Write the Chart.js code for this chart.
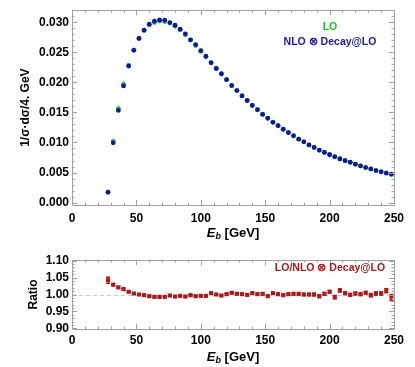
<!DOCTYPE html>
<html><head><meta charset="utf-8">
<script src="https://cdn.jsdelivr.net/npm/chart.js@4.4.1/dist/chart.umd.min.js"></script>
<style>
html,body{margin:0;padding:0;background:#fff;width:415px;height:367px;overflow:hidden}
canvas{position:absolute;left:0}
#c1{top:0;width:415px;height:245px}
#c2{top:245px;width:415px;height:122px}
</style></head><body>
<canvas id="c1" width="415" height="245"></canvas>
<canvas id="c2" width="415" height="122"></canvas>
<script>
const energy=[28,32,36,40,44,48,52,56,60,64,68,72,76,80,84,88,92,96,100,104,108,112,116,120,124,128,132,136,140,144,148,152,156,160,164,168,172,176,180,184,188,192,196,200,204,208,212,216,220,224,228,232,236,240,244,248];
const nloDecay=[0.0017,0.00994,0.01533,0.0194,0.0227,0.02533,0.0273,0.02868,0.02967,0.03016,0.03038,0.03033,0.02995,0.0295,0.02884,0.02807,0.02708,0.02626,0.02527,0.02434,0.02324,0.0223,0.02143,0.02044,0.01945,0.01863,0.01775,0.01698,0.01615,0.01544,0.01467,0.01406,0.01335,0.0128,0.0122,0.01165,0.0111,0.01055,0.0101,0.0096,0.00918,0.00874,0.00835,0.00796,0.00763,0.00725,0.00697,0.00671,0.00638,0.0061,0.00582,0.0056,0.00532,0.00511,0.0049,0.00473];
const lo=[0.00177,0.01023,0.01565,0.01971,0.02288,0.02541,0.0273,0.02862,0.02952,0.02995,0.03017,0.03012,0.02986,0.02932,0.02872,0.0279,0.02703,0.02613,0.02517,0.02424,0.02333,0.0223,0.02137,0.02046,0.01955,0.01867,0.01777,0.01696,0.01621,0.01546,0.0147,0.01399,0.0134,0.01281,0.01218,0.01166,0.01112,0.01057,0.0101,0.0096,0.00918,0.0087,0.00837,0.00802,0.00757,0.00734,0.007,0.0067,0.0064,0.00611,0.00585,0.00559,0.00534,0.00513,0.00495,0.00469];
const ratio=[1.042,1.029,1.021,1.016,1.008,1.003,1.000,0.998,0.995,0.993,0.993,0.993,0.997,0.994,0.996,0.994,0.998,0.995,0.996,0.996,1.004,1.000,0.997,1.001,1.005,1.002,1.001,0.999,1.004,1.001,1.002,0.995,1.004,1.001,0.998,1.001,1.002,1.002,1.000,1.000,1.000,0.995,1.002,1.008,0.992,1.012,1.004,0.999,1.003,1.001,1.005,0.998,1.003,1.003,1.011,0.991];
const ratioErr=[0.009,0.003,0.003,0.003,0.002,0.002,0.002,0.002,0.002,0.002,0.002,0.002,0.002,0.002,0.002,0.002,0.002,0.002,0.002,0.002,0.002,0.002,0.002,0.002,0.002,0.002,0.002,0.003,0.003,0.003,0.003,0.003,0.003,0.003,0.003,0.003,0.003,0.003,0.003,0.003,0.004,0.004,0.004,0.004,0.005,0.005,0.004,0.004,0.004,0.004,0.004,0.005,0.005,0.005,0.006,0.009];
const xTicks=[0,50,100,150,200,250];
const yTicksTop=[0,0.005,0.010,0.015,0.020,0.025,0.030];
const yTicksRatio=[0.90,0.95,1.00,1.05,1.10];

const FONT='"Liberation Sans", Arial, sans-serif';
const tickFont={family:FONT,size:12,weight:'bold'};
const FRAME='#a0a0a0';

function pts(ys){return energy.map((x,i)=>({x:x,y:ys[i]}));}

function frameTicks(chart,xMinor,yMinor,yMajor){
  const ctx=chart.ctx,a=chart.chartArea,xs=chart.scales.x,ys=chart.scales.y;
  ctx.save();
  ctx.strokeStyle=FRAME;ctx.lineWidth=1;
  ctx.beginPath();
  ctx.rect(Math.round(a.left)+0.5,Math.round(a.top)+0.5,Math.round(a.right-a.left),Math.round(a.bottom-a.top));
  ctx.stroke();
  ctx.beginPath();
  for(let v=xs.min;v<=xs.max+1e-9;v+=xMinor){
    const major=Math.abs(v/50-Math.round(v/50))<1e-6;
    const L=major?5:2.5;
    const p=Math.round(xs.getPixelForValue(v))+0.5;
    ctx.moveTo(p,a.bottom);ctx.lineTo(p,a.bottom-L);
    ctx.moveTo(p,a.top);ctx.lineTo(p,a.top+L);
  }
  const start=Math.ceil(ys.min/yMinor-1e-6);
  const end=Math.floor(ys.max/yMinor+1e-6);
  const per=Math.round(yMajor/yMinor);
  for(let k=start;k<=end;k++){
    const v=k*yMinor;
    const major=(k%per)===0;
    const L=major?5:2.5;
    const p=Math.round(ys.getPixelForValue(v))+0.5;
    ctx.moveTo(a.left,p);ctx.lineTo(a.left+L,p);
    ctx.moveTo(a.right,p);ctx.lineTo(a.right-L,p);
  }
  ctx.stroke();
  ctx.restore();
}

function drawXTitle(ctx,cx,cy){
  ctx.save();
  ctx.fillStyle='#000';ctx.textBaseline='middle';
  const f1='italic bold 13px '+FONT, f2='italic bold 9px '+FONT, f3='bold 13px '+FONT;
  ctx.font=f1;const w1=ctx.measureText('E').width;
  ctx.font=f2;const w2=ctx.measureText('b').width;
  ctx.font=f3;const w3=ctx.measureText(' [GeV]').width;
  let x=cx-(w1+w2+w3)/2;
  ctx.textAlign='left';
  ctx.font=f1;ctx.fillText('E',x,cy);x+=w1;
  ctx.font=f2;ctx.fillText('b',x,cy+4);x+=w2;
  ctx.font=f3;ctx.fillText(' [GeV]',x,cy);
  ctx.restore();
}

function drawRotated(ctx,text,cx,cy,font){
  ctx.save();ctx.translate(cx,cy);ctx.rotate(-Math.PI/2);
  ctx.font=font;ctx.fillStyle='#000';ctx.textAlign='center';ctx.textBaseline='middle';
  ctx.fillText(text,0,0);ctx.restore();
}

const topPlugin={id:'topDeco',
  afterDatasetsDraw(chart){
    frameTicks(chart,10,0.001,0.005);
    const ctx=chart.ctx,a=chart.chartArea;
    drawXTitle(ctx,(a.left+a.right)/2,233);
    drawRotated(ctx,'1/\u03c3\u00b7d\u03c3/4. GeV',26,(a.top+a.bottom)/2,'bold 12px '+FONT);
    ctx.save();
    ctx.font='bold 10.5px '+FONT;ctx.textAlign='center';ctx.textBaseline='middle';
    ctx.fillStyle='#22bb22';ctx.fillText('LO',330,27);
    ctx.fillStyle='#1a1aa6';ctx.fillText('NLO \u2297 Decay@LO',330,42);
    ctx.restore();
  }};

new Chart(document.getElementById('c1'),{
  type:'scatter',
  data:{datasets:[
    {label:'NLO\u2297Decay@LO',data:pts(nloDecay),order:1,pointStyle:'circle',pointRadius:2.4,pointBorderWidth:0,backgroundColor:'#0d1aa0',borderColor:'#0d1aa0'},
    {label:'LO',data:pts(lo),order:2,pointStyle:'circle',pointRadius:2.4,pointBorderWidth:0,backgroundColor:'#33c433',borderColor:'#33c433'}
  ]},
  options:{responsive:false,animation:false,devicePixelRatio:1,
    layout:{padding:{left:0,right:21,top:8,bottom:0}},
    plugins:{legend:{display:false},tooltip:{enabled:false}},
    scales:{
      x:{type:'linear',min:0,max:250,
        afterBuildTicks:s=>{s.ticks=xTicks.map(v=>({value:v}));},
        afterFit:s=>{s.height=40;},
        grid:{display:false,drawTicks:false},border:{display:false},
        ticks:{padding:6,font:tickFont,color:'#000',maxRotation:0,autoSkip:false,callback:v=>String(v)}},
      y:{type:'linear',min:-0.0004,max:0.032,
        afterBuildTicks:s=>{s.ticks=yTicksTop.map(v=>({value:v}));},
        afterFit:s=>{s.width=72;},
        grid:{display:false,drawTicks:false},border:{display:false},
        ticks:{padding:3,font:tickFont,color:'#000',autoSkip:false,callback:v=>v.toFixed(3)}}
    }},
  plugins:[topPlugin]
});

const ratioPlugin={id:'ratioDeco',
  beforeDatasetsDraw(chart){
    const ctx=chart.ctx,a=chart.chartArea,xs=chart.scales.x,ys=chart.scales.y;
    ctx.save();
    ctx.strokeStyle='#cccccc';ctx.lineWidth=1;ctx.setLineDash([4,3]);
    const p=Math.round(ys.getPixelForValue(1))+0.5;
    ctx.beginPath();ctx.moveTo(a.left,p);ctx.lineTo(a.right,p);ctx.stroke();
    ctx.setLineDash([]);
    ctx.strokeStyle='#b01818';ctx.lineWidth=1.3;
    ctx.beginPath();
    energy.forEach((e,i)=>{
      const x=xs.getPixelForValue(e);
      const y1=ys.getPixelForValue(ratio[i]+ratioErr[i]);
      const y2=ys.getPixelForValue(ratio[i]-ratioErr[i]);
      ctx.moveTo(x,y1);ctx.lineTo(x,y2);
      ctx.moveTo(x-2,y1);ctx.lineTo(x+2,y1);
      ctx.moveTo(x-2,y2);ctx.lineTo(x+2,y2);
    });
    ctx.stroke();
    ctx.restore();
  },
  afterDatasetsDraw(chart){
    frameTicks(chart,10,0.01,0.05);
    const ctx=chart.ctx,a=chart.chartArea;
    drawXTitle(ctx,(a.left+a.right)/2,112);
    drawRotated(ctx,'Ratio',33.5,(a.top+a.bottom)/2,'bold 12px '+FONT);
    ctx.save();
    ctx.font='bold 10.5px '+FONT;ctx.textAlign='center';ctx.textBaseline='middle';
    ctx.fillStyle='#b01818';ctx.fillText('LO/NLO \u2297 Decay@LO',330,23.5);
    ctx.restore();
  }};

new Chart(document.getElementById('c2'),{
  type:'scatter',
  data:{datasets:[
    {label:'Ratio',data:pts(ratio),pointStyle:'rect',pointRadius:2.9,pointBorderWidth:0,backgroundColor:'#b01818',borderColor:'#b01818'}
  ]},
  options:{responsive:false,animation:false,devicePixelRatio:1,
    layout:{padding:{left:0,right:21,top:15,bottom:0}},
    plugins:{legend:{display:false},tooltip:{enabled:false}},
    scales:{
      x:{type:'linear',min:0,max:250,
        afterBuildTicks:s=>{s.ticks=xTicks.map(v=>({value:v}));},
        afterFit:s=>{s.height=38;},
        grid:{display:false,drawTicks:false},border:{display:false},
        ticks:{padding:4,font:tickFont,color:'#000',maxRotation:0,autoSkip:false,callback:v=>String(v)}},
      y:{type:'linear',min:0.898,max:1.102,
        afterBuildTicks:s=>{s.ticks=yTicksRatio.map(v=>({value:v}));},
        afterFit:s=>{s.width=72;},
        grid:{display:false,drawTicks:false},border:{display:false},
        ticks:{padding:3,font:tickFont,color:'#000',autoSkip:false,callback:v=>v.toFixed(2)}}
    }},
  plugins:[ratioPlugin]
});
</script>
</body></html>
